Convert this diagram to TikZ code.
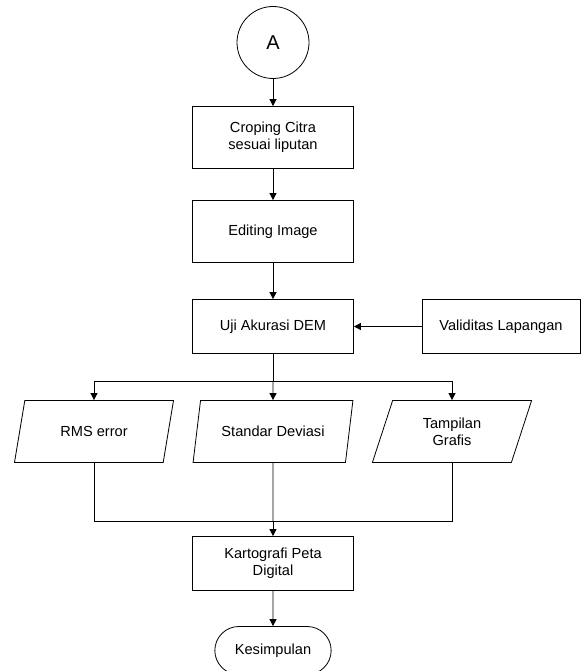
\documentclass[tikz,border=0pt]{standalone}
\usepackage{fontspec}
\setmainfont{Liberation Sans}
\usepackage{tikz}
\usetikzlibrary{shapes.geometric, shapes.misc, arrows.meta}
\tikzstyle{procbox} = [rectangle, minimum width=161pt, minimum height=62pt, draw=black,
                       line width=0.8pt, align=center, font=\fontsize{14.6}{16.8}\selectfont]
\tikzstyle{iobox} = [trapezium, trapezium left angle=72, trapezium right angle=108,
                     trapezium stretches=true, minimum width=160pt, minimum height=62pt,
                     draw=black, line width=0.8pt, align=center, font=\fontsize{14.6}{16.8}\selectfont]
\tikzstyle{connector} = [circle, minimum size=72pt, inner sep=0pt, draw=black,
                         line width=0.8pt, font=\fontsize{20}{24}\selectfont]
\tikzstyle{endbox} = [rounded rectangle, minimum width=123pt, minimum height=48pt, draw=black,
                      line width=0.8pt, font=\fontsize{14.6}{16.8}\selectfont]
\tikzstyle{arrow} = [line width=0.8pt, -{Triangle[length=7pt,width=7pt]}]
\tikzstyle{line} = [line width=0.8pt]

\begin{document}
\begin{tikzpicture}[node distance=95pt]
  \useasboundingbox (0,0) rectangle (582pt,-671pt);
  \node (conA) [connector] at (273pt,-42.5pt) {A};
  \node (crop) [procbox, below of=conA] {Croping Citra\\sesuai liputan};
  \node (edit) [procbox, below of=crop, node distance=94pt] {Editing Image};
  \node (uji) [procbox, below of=edit, minimum height=54pt] {Uji Akurasi DEM};
  \node (valid) [procbox, right of=uji, node distance=228pt, minimum width=158pt, minimum height=54pt] {Validitas Lapangan};
  \node (std) [iobox, below of=uji, node distance=105pt] {Standar Deviasi};
  \node (rms) [iobox, left of=std, node distance=179pt] {RMS error};
  \node (tamp) [iobox, right of=std, node distance=179pt] {Tampilan\\Grafis};
  \node (karto) [procbox, below of=std, node distance=132pt, minimum height=54pt] {Kartografi Peta\\Digital};
  \node (kesim) [endbox, below of=karto, node distance=87pt] {Kesimpulan};
  \coordinate (branch) at (273pt,-381pt);
  \coordinate (merge) at (273pt,-521pt);

  \draw [arrow] (conA) -- (crop);
  \draw [arrow] (crop) -- (edit);
  \draw [arrow] (edit) -- (uji);
  \draw [arrow] (valid) -- (uji);
  \draw [line] (uji) -- (branch);
  \draw [arrow] (branch) -| (rms);
  \draw [arrow] (branch) -- (std);
  \draw [arrow] (branch) -| (tamp);
  \draw [line] (rms) |- (merge);
  \draw [line] (tamp) |- (merge);
  \draw [line] (std) -- (merge);
  \draw [arrow] (merge) -- (karto);
  \draw [arrow] (karto) -- (kesim);
\end{tikzpicture}
\end{document}
